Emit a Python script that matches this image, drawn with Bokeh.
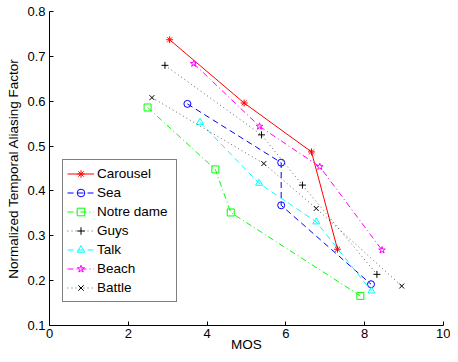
from bokeh.plotting import figure
from bokeh.embed import file_html
from bokeh.resources import INLINE
from bokeh.models import Legend, LegendItem, FixedTicker, Range1d

# ---- data ----
carousel_x = [3.05, 4.94, 6.65, 7.31]
carousel_y = [0.737, 0.596, 0.487, 0.270]

sea_x = [3.50, 5.88, 5.88, 8.16]
sea_y = [0.594, 0.463, 0.368, 0.192]

notre_x = [2.49, 4.21, 4.60, 7.89]
notre_y = [0.586, 0.448, 0.352, 0.166]

guys_x = [2.93, 5.38, 6.42, 8.31]
guys_y = [0.680, 0.525, 0.413, 0.214]

talk_x = [3.82, 5.32, 6.77, 8.17]
talk_y = [0.553, 0.417, 0.331, 0.177]

beach_x = [3.66, 5.33, 6.86, 8.44]
beach_y = [0.684, 0.544, 0.454, 0.268]

battle_x = [2.60, 5.44, 6.77, 8.94]
battle_y = [0.608, 0.461, 0.361, 0.188]

names = ["Carousel", "Sea", "Notre dame", "Guys", "Talk", "Beach", "Battle"]
x_ticks = [0, 2, 4, 6, 8, 10]
y_ticks = [0.1, 0.2, 0.3, 0.4, 0.5, 0.6, 0.7, 0.8]

FONT = "Liberation Sans"

p = figure(width=450, height=354, output_backend="svg", toolbar_location=None,
           x_range=Range1d(0, 10), y_range=Range1d(0.1, 0.8),
           min_border_left=49, min_border_right=7, min_border_top=11, min_border_bottom=28)
p.outline_line_color = None
p.xgrid.visible = False
p.ygrid.visible = False
p.background_fill_color = "white"
p.border_fill_color = "white"

for ax in (p.xaxis[0], p.yaxis[0]):
    ax.major_tick_in = 4
    ax.major_tick_out = 0
    ax.minor_tick_in = 0
    ax.minor_tick_out = 0
    ax.axis_line_color = "black"
    ax.major_tick_line_color = "black"
    ax.major_label_text_font = FONT
    ax.major_label_text_font_size = "13px"
    ax.major_label_text_color = "black"
    ax.axis_label_text_font = FONT
    ax.axis_label_text_font_size = "13.5px"
    ax.axis_label_text_font_style = "normal"
    ax.axis_label_text_color = "black"

p.xaxis.ticker = FixedTicker(ticks=x_ticks)
p.yaxis.ticker = FixedTicker(ticks=y_ticks)
p.xaxis.axis_label = "MOS"
p.yaxis.axis_label = "Normalized Temporal Aliasing Factor"
p.xaxis.major_label_standoff = 3
p.xaxis.axis_label_standoff = -4
p.yaxis.major_label_standoff = 4
p.yaxis.axis_label_standoff = 3

series = [
    (carousel_x, carousel_y, "#ff0000", "solid", "asterisk", True),
    (sea_x, sea_y, "#0000ff", "6 4", "circle", False),
    (notre_x, notre_y, "#00ff00", "6 3 1 3", "square", False),
    (guys_x, guys_y, "#000000", "1 3", "cross", False),
    (talk_x, talk_y, "#00ffff", "6 4", "triangle", False),
    (beach_x, beach_y, "#ff00ff", "6 3 1 3", "star", False),
    (battle_x, battle_y, "#000000", "1 3", "x", False),
]

items = []
for name, (xs, ys, col, dash, mk, filled) in zip(names, series):
    alpha = 0.6 if col == "#000000" else 1.0
    r1 = p.line(xs, ys, line_color=col, line_width=1.0, line_dash=dash, line_alpha=alpha)
    r2 = p.scatter(xs, ys, marker=mk, size=7, line_color=col, line_width=1,
                   fill_color=col if filled else None)
    items.append(LegendItem(label=name, renderers=[r1, r2]))

legend = Legend(items=items, location=(13, 23))
legend.border_line_color = "black"
legend.border_line_width = 1
legend.background_fill_color = "white"
legend.background_fill_alpha = 1
legend.label_text_font = FONT
legend.label_text_font_size = "13.5px"
legend.label_text_color = "black"
legend.padding = 4
legend.margin = 0
legend.spacing = 0
legend.glyph_height = 19
legend.label_height = 19
legend.glyph_width = 27
legend.label_width = 75
legend.label_standoff = 3
p.add_layout(legend, "center")

open("out.html", "w").write(file_html(p, INLINE))
